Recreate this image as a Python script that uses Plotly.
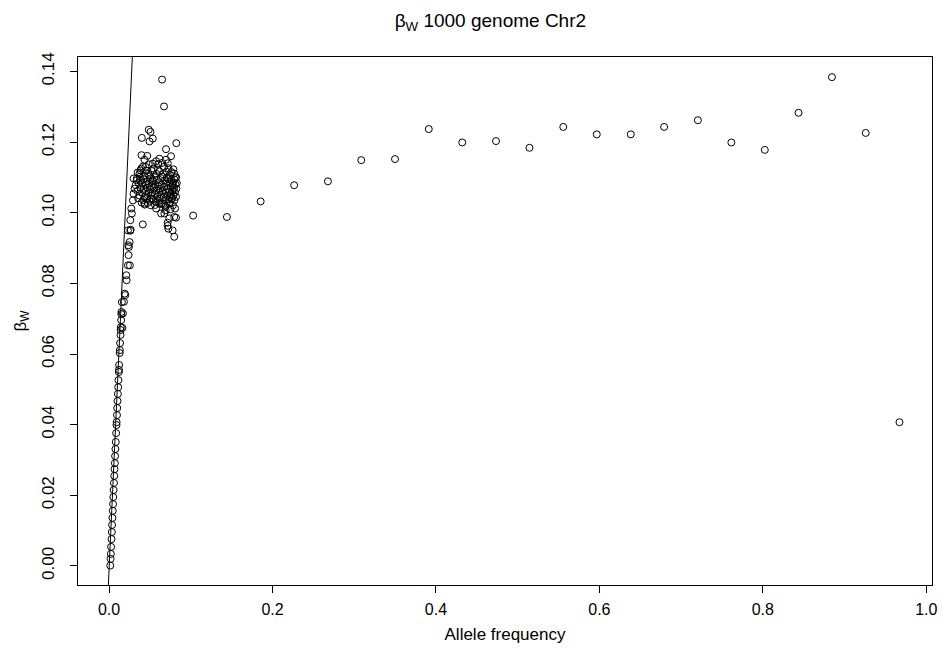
import plotly.graph_objects as go

# ---- data ----
# low-frequency points lying along the reference line
line_x = [0.0015, 0.0019, 0.0022, 0.0025, 0.0030, 0.0034, 0.0037, 0.0041, 0.0045, 0.0049,
          0.0052, 0.0056, 0.0060, 0.0064, 0.0067, 0.0071, 0.0074, 0.0078, 0.0082, 0.0087,
          0.0091, 0.0093, 0.0097, 0.0100, 0.0104, 0.0108, 0.0112, 0.0115, 0.0120, 0.0121,
          0.0123, 0.0130, 0.0132, 0.0135, 0.0140, 0.0142, 0.0144, 0.0148, 0.0151, 0.0152,
          0.0157, 0.0163, 0.0170, 0.0182, 0.0191, 0.0199, 0.0215, 0.0211, 0.0231, 0.0255,
          0.0239, 0.0243, 0.0252, 0.0260, 0.0264, 0.0260, 0.0279, 0.0272, 0.0292, 0.0300,
          0.0312, 0.0413, 0.0231, 0.0236]
line_y = [0.0001, 0.0020, 0.0034, 0.0054, 0.0076, 0.0096, 0.0116, 0.0136, 0.0156, 0.0175,
          0.0195, 0.0215, 0.0235, 0.0255, 0.0274, 0.0291, 0.0311, 0.0331, 0.0351, 0.0376,
          0.0399, 0.0407, 0.0427, 0.0447, 0.0467, 0.0487, 0.0506, 0.0526, 0.0549, 0.0555,
          0.0569, 0.0603, 0.0611, 0.0631, 0.0654, 0.0668, 0.0676, 0.0696, 0.0713, 0.0719,
          0.0747, 0.0674, 0.0715, 0.0748, 0.0771, 0.0767, 0.0809, 0.0823, 0.0851, 0.0851,
          0.0880, 0.0903, 0.0917, 0.0949, 0.0952, 0.0979, 0.0998, 0.1012, 0.1035, 0.1054,
          0.1068, 0.0967, 0.0950, 0.0908]

# dense cluster between allele frequency 0.03 and 0.083
cluster_x = [0.0649, 0.0673, 0.0486, 0.0507, 0.0401, 0.0495, 0.0535, 0.0823, 0.0697, 0.0397,
             0.0467, 0.0758, 0.0434, 0.0697, 0.0616, 0.0576, 0.0535, 0.0486, 0.0394, 0.0446,
             0.0373, 0.0340, 0.0300,
             0.0798, 0.0819, 0.0778, 0.0778, 0.0765, 0.0738, 0.0677, 0.0616, 0.0515, 0.0434,
             0.0576, 0.0637, 0.0677, 0.0798, 0.0819, 0.0738, 0.0717, 0.0717, 0.0725, 0.0778,
             0.0798,
             0.0325, 0.0348, 0.0362, 0.0371, 0.0383, 0.0392, 0.0405, 0.0411, 0.0418, 0.0426,
             0.0433, 0.0441, 0.0447, 0.0452, 0.0459, 0.0466, 0.0471, 0.0478, 0.0484, 0.0489,
             0.0495, 0.0502, 0.0508, 0.0513, 0.0519, 0.0526, 0.0531, 0.0537, 0.0542, 0.0549,
             0.0554, 0.0561, 0.0566, 0.0572, 0.0579, 0.0585, 0.0591, 0.0597, 0.0603, 0.0609,
             0.0614, 0.0621, 0.0627, 0.0633, 0.0639, 0.0645, 0.0651, 0.0657, 0.0662, 0.0668,
             0.0674, 0.0681, 0.0687, 0.0693, 0.0699, 0.0705, 0.0711, 0.0717, 0.0723, 0.0729,
             0.0735, 0.0741, 0.0747, 0.0753, 0.0759, 0.0765, 0.0771, 0.0777, 0.0783, 0.0789,
             0.0795, 0.0801, 0.0807, 0.0813, 0.0819, 0.0824,
             0.0338, 0.0356, 0.0377, 0.0399, 0.0421, 0.0437, 0.0456, 0.0474, 0.0493, 0.0511,
             0.0529, 0.0546, 0.0563, 0.0581, 0.0599, 0.0617, 0.0636, 0.0655, 0.0672, 0.0691,
             0.0709, 0.0727, 0.0744, 0.0762, 0.0781, 0.0799, 0.0816, 0.0829, 0.0350, 0.0386,
             0.0415, 0.0602, 0.0648, 0.0719, 0.0787, 0.0693, 0.0752, 0.0808]
cluster_y = [0.1377, 0.1301, 0.1235, 0.1229, 0.1212, 0.1202, 0.1210, 0.1197, 0.1180, 0.1163,
             0.1161, 0.1160, 0.1150, 0.1150, 0.1153, 0.1146, 0.1139, 0.1137, 0.1125, 0.1130,
             0.1111, 0.1097, 0.1097,
             0.1111, 0.1101, 0.1078, 0.1064, 0.1040, 0.1026, 0.1021, 0.1026, 0.1040, 0.1026,
             0.1012, 0.0998, 0.0998, 0.0988, 0.0986, 0.0984, 0.0972, 0.0963, 0.0955, 0.0950,
             0.0932,
             0.1078, 0.1062, 0.1085, 0.1049, 0.1071, 0.1093, 0.1058, 0.1082, 0.1036, 0.1068,
             0.1104, 0.1047, 0.1079, 0.1061, 0.1089, 0.1042, 0.1071, 0.1110, 0.1055, 0.1083,
             0.1034, 0.1066, 0.1097, 0.1049, 0.1076, 0.1118, 0.1058, 0.1088, 0.1039, 0.1071,
             0.1101, 0.1052, 0.1080, 0.1031, 0.1064, 0.1093, 0.1046, 0.1122, 0.1075, 0.1057,
             0.1086, 0.1040, 0.1068, 0.1098, 0.1051, 0.1079, 0.1027, 0.1062, 0.1109, 0.1044,
             0.1073, 0.1091, 0.1035, 0.1057, 0.1083, 0.1116, 0.1048, 0.1068, 0.1095, 0.1038,
             0.1060, 0.1087, 0.1106, 0.1052, 0.1074, 0.1093, 0.1041, 0.1063, 0.1085, 0.1049,
             0.1071, 0.1094, 0.1058, 0.1080, 0.1045, 0.1068,
             0.1092, 0.1041, 0.1102, 0.1029, 0.1095, 0.1023, 0.1119, 0.1028, 0.1106, 0.1021,
             0.1091, 0.1125, 0.1022, 0.1110, 0.1033, 0.1117, 0.1025, 0.1102, 0.1130, 0.1018,
             0.1099, 0.1126, 0.1030, 0.1115, 0.1021, 0.1035, 0.1098, 0.1084, 0.1114, 0.1120,
             0.1131, 0.1138, 0.1141, 0.1140, 0.1123, 0.1007, 0.1010, 0.1012]

# higher-frequency bins
high_x = [0.1029, 0.1442, 0.1855, 0.2265, 0.2678, 0.3086, 0.3499, 0.3912, 0.4322, 0.4735,
          0.5144, 0.5558, 0.5968, 0.6384, 0.6792, 0.7205, 0.7615, 0.8024, 0.8437, 0.8846,
          0.9259, 0.9672]
high_y = [0.0992, 0.0988, 0.1032, 0.1078, 0.1089, 0.1149, 0.1152, 0.1237, 0.1199, 0.1203,
          0.1184, 0.1243, 0.1222, 0.1222, 0.1243, 0.1262, 0.1199, 0.1178, 0.1283, 0.1384,
          0.1226, 0.0407]

# reference line: y = intercept + slope * x
LINE_INTERCEPT = -0.0012
LINE_SLOPE = 5.1

x_ticks = [0.0, 0.2, 0.4, 0.6, 0.8, 1.0]
x_tick_text = ["0.0", "0.2", "0.4", "0.6", "0.8", "1.0"]
y_ticks = [0.00, 0.02, 0.04, 0.06, 0.08, 0.10, 0.12, 0.14]
y_tick_text = ["0.00", "0.02", "0.04", "0.06", "0.08", "0.10", "0.12", "0.14"]

X_RANGE = [-0.038, 1.007]
Y_RANGE = [-0.0054, 0.1441]

all_x = line_x + cluster_x + high_x
all_y = line_y + cluster_y + high_y

FONT = "Liberation Sans, Arial, Helvetica, sans-serif"

fig = go.Figure()
fig.add_trace(go.Scatter(
    x=all_x, y=all_y, mode="markers",
    marker=dict(symbol="circle-open", size=7, color="black", line=dict(width=1, color="black")),
    showlegend=False, hoverinfo="x+y"))

ly = [Y_RANGE[0], Y_RANGE[1]]
lx = [(v - LINE_INTERCEPT) / LINE_SLOPE for v in ly]
fig.add_trace(go.Scatter(x=lx, y=ly, mode="lines", line=dict(color="black", width=1),
                         showlegend=False, hoverinfo="skip"))

fig.update_layout(
    width=943, height=651,
    margin=dict(l=78, r=6, t=57, b=66),
    paper_bgcolor="white", plot_bgcolor="white",
    font=dict(family=FONT, color="black", size=16),
    title=dict(text="β<sub>W</sub> 1000 genome Chr2", x=0.52, xref="container",
               xanchor="center", y=0.968, yref="container", yanchor="middle",
               font=dict(size=19, family=FONT, color="black")),
    xaxis=dict(range=X_RANGE, tickvals=x_ticks, ticktext=x_tick_text,
               ticks="outside", ticklen=7, tickwidth=1, tickcolor="black",
               showline=True, mirror=True, linecolor="black", linewidth=1,
               showgrid=False, zeroline=False, ticklabelstandoff=3,
               tickfont=dict(size=16),
               title=dict(text="Allele frequency", standoff=10, font=dict(size=17))),
    yaxis=dict(range=Y_RANGE, tickvals=y_ticks, ticktext=y_tick_text,
               ticks="outside", ticklen=7, tickwidth=1, tickcolor="black",
               showline=True, mirror=True, linecolor="black", linewidth=1,
               showgrid=False, zeroline=False, tickangle=-90, ticklabelstandoff=9,
               tickfont=dict(size=17),
               title=dict(text="β<sub>W</sub>", standoff=8, font=dict(size=17))),
)

fig.write_html("out.html")
